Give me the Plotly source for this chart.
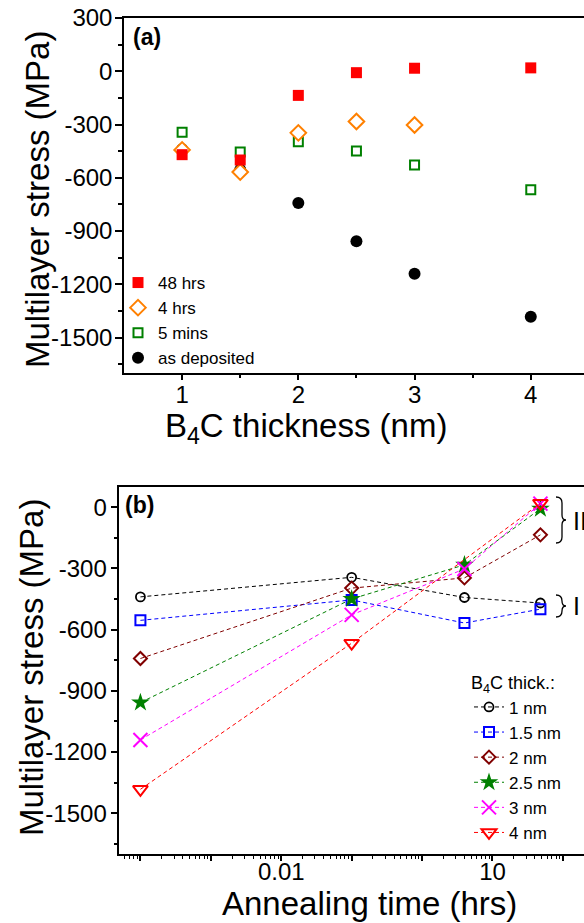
import plotly.graph_objects as go

W, H = 584, 923
def px(x): return x / W
def py(y): return 1 - y / H

FONT = "Liberation Sans"

# ---------------- data ----------------
thickness = [1, 1.5, 2, 2.5, 3, 4]
as_deposited = [-440, -555, -742, -958, -1141, -1383]
mins_5 = [-344, -455, -397, -450, -528, -667]
hrs_4 = [-443, -568, -347, -283, -303, None]
hrs_48 = [-470, -500, -136, -8, 17, 19]

anneal_time = [1e-4, 0.1, 4, 48]   # hrs (as deposited plotted at 1e-4)
thick_labels = ["1 nm", "1.5 nm", "2 nm", "2.5 nm", "3 nm", "4 nm"]

y_ticks = [300, 0, -300, -600, -900, -1200, -1500]
y_ticktext = ["300", "0", "-300", "-600", "-900", "-1200", "-1500"]
y_ticks_b = [0, -300, -600, -900, -1200, -1500]
y_ticktext_b = ["0", "-300", "-600", "-900", "-1200", "-1500"]
x_ticks_a = [1, 2, 3, 4]
x_minor_a = [1.5, 2.5, 3.5]
x_ticks_b = [1e-4, 1e-3, 1e-2, 1e-1, 1, 10, 100]
x_ticktext_b = ["", "", "0.01", "", "", "10", ""]
x_minor_b = [m * d for d in [1e-5, 1e-4, 1e-3, 1e-2, 1e-1, 1, 10, 100] for m in range(2, 10)]

fig = go.Figure()

# ---------------- panel (a) ----------------
top_series = [
    ("as deposited", as_deposited, dict(symbol="circle", size=12, color="black"), 4),
    ("5 mins", mins_5, dict(symbol="square", size=9, color="white", line=dict(width=2, color="#008000")), 3),
    ("4 hrs", hrs_4, dict(symbol="diamond", size=12, color="white", line=dict(width=2, color="#FF8000")), 2),
    ("48 hrs", hrs_48, dict(symbol="square", size=11, color="#FF0000"), 1),
]
for name, vals, mk, rank in top_series:
    fig.add_trace(go.Scatter(x=thickness, y=vals, mode="markers", name=name, marker=mk,
                             xaxis="x", yaxis="y", legend="legend", legendrank=rank))

# ---------------- panel (b) ----------------
b_styles = [
    ("black", dict(symbol="circle-open", size=9, line=dict(width=1.8))),
    ("#0000FF", dict(symbol="square-open", size=10, line=dict(width=2))),
    ("#800000", dict(symbol="diamond-open", size=10, line=dict(width=2))),
    ("#008000", dict(symbol="star", size=14, line=dict(width=0))),
    ("#FF00FF", dict(symbol="x-thin-open", size=14, line=dict(width=2))),
    ("#FF0000", dict(symbol="triangle-down-open", size=13, line=dict(width=2))),
]
for i, lab in enumerate(thick_labels):
    col, mk = b_styles[i]
    ys = [as_deposited[i], mins_5[i], hrs_4[i], hrs_48[i]]
    xs = [t for t, v in zip(anneal_time, ys) if v is not None]
    ys = [v for v in ys if v is not None]
    mk = dict(mk)
    mk["color"] = col
    mk["line"] = dict(mk["line"], color=col)
    fig.add_trace(go.Scatter(x=xs, y=ys, mode="lines+markers", name=lab,
                             line=dict(color=col, width=1, dash="4px,3px"),
                             marker=mk, xaxis="x2", yaxis="y2", legend="legend2"))

axis_common = dict(showline=True, linecolor="black", linewidth=1.5, showgrid=False, zeroline=False,
                   ticks="outside", tickcolor="black", tickwidth=1.5, automargin=False,
                   tickfont=dict(family=FONT, size=24, color="black"))

fig.update_layout(
    width=W, height=H, margin=dict(l=0, r=0, t=0, b=0, autoexpand=False),
    paper_bgcolor="white", plot_bgcolor="white",
    font=dict(family=FONT, color="black"),
    xaxis=dict(axis_common, domain=[px(124), 1], range=[0.5, 4.458], anchor="y",
               tickmode="array", tickvals=x_ticks_a, ticklen=5, mirror=True, ticklabelstandoff=-6,
               minor=dict(tickmode="array", tickvals=x_minor_a, ticks="outside", ticklen=3,
                          tickcolor="black", tickwidth=1.5)),
    yaxis=dict(axis_common, domain=[py(373), py(18)], range=[-1700, 300], anchor="x",
               tickmode="array", tickvals=y_ticks, ticktext=y_ticktext, ticklen=7, ticklabelstandoff=-2,
               minor=dict(tickmode="linear", tick0=150, dtick=300, ticks="outside", ticklen=4,
                          tickcolor="black", tickwidth=1.5)),
    xaxis2=dict(axis_common, type="log", domain=[px(119.3), 1], range=[-4.3, 2.3], anchor="y2",
                tickmode="array", tickvals=x_ticks_b, ticktext=x_ticktext_b, ticklen=5, mirror=True,
                ticklabelstandoff=-10,
                minor=dict(tickmode="array", tickvals=x_minor_b, ticks="outside", ticklen=3,
                           tickcolor="black", tickwidth=1.2)),
    yaxis2=dict(axis_common, domain=[py(854), py(486.7)], range=[-1700, 100], anchor="x2",
                tickmode="array", tickvals=y_ticks_b, ticktext=y_ticktext_b, ticklen=7, ticklabelstandoff=-1,
                minor=dict(tickmode="linear", tick0=150, dtick=300, ticks="outside", ticklen=4,
                           tickcolor="black", tickwidth=1.5)),
    legend=dict(x=px(118), y=py(265), xanchor="left", yanchor="top", bgcolor="rgba(0,0,0,0)",
                font=dict(family=FONT, size=17, color="black"), tracegroupgap=0),
    legend2=dict(x=px(469), y=py(666), xanchor="left", yanchor="top", bgcolor="rgba(0,0,0,0)",
                 font=dict(family=FONT, size=17, color="black"), tracegroupgap=0,
                 title=dict(text="B<sub>4</sub>C thick.:", font=dict(family=FONT, size=18, color="black"))),
    showlegend=True,
)

anns = [
    dict(text="<b>(a)</b>", x=px(131), y=py(37), xanchor="left", yanchor="middle", font=dict(size=23)),
    dict(text="<b>(b)</b>", x=px(123), y=py(505), xanchor="left", yanchor="middle", font=dict(size=23)),
    dict(text="B<sub>4</sub>C thickness (nm)", x=px(306), y=py(428), xanchor="center", yanchor="middle", font=dict(size=33)),
    dict(text="Annealing time (hrs)", x=px(369), y=py(903), xanchor="center", yanchor="middle", font=dict(size=33)),
    dict(text="Multilayer stress (MPa)", x=px(38), y=py(200), textangle=-90, xanchor="center", yanchor="middle", font=dict(size=33)),
    dict(text="Multilayer stress (MPa)", x=px(31), y=py(668), textangle=-90, xanchor="center", yanchor="middle", font=dict(size=33)),
    dict(text="II", x=px(571), y=py(521), xanchor="left", yanchor="middle", font=dict(size=25)),
    dict(text="I", x=px(571), y=py(606), xanchor="left", yanchor="middle", font=dict(size=25)),
]
for a in anns:
    a.update(xref="paper", yref="paper", showarrow=False)
    a["font"] = dict(a["font"], family=FONT, color="black")
fig.update_layout(annotations=anns)

def brace(x0, y0, y1, w=10):
    ym = (y0 + y1) / 2
    xm = x0 + w * 0.6
    pts = [
        f"M{px(x0)},{py(y0)}",
        f"Q{px(xm)},{py(y0)} {px(xm)},{py(y0 + 6)}",
        f"L{px(xm)},{py(ym - 5)}",
        f"Q{px(xm)},{py(ym)} {px(x0 + w)},{py(ym)}",
        f"Q{px(xm)},{py(ym)} {px(xm)},{py(ym + 5)}",
        f"L{px(xm)},{py(y1 - 6)}",
        f"Q{px(xm)},{py(y1)} {px(x0)},{py(y1)}",
    ]
    return dict(type="path", path=" ".join(pts), xref="paper", yref="paper",
                line=dict(color="black", width=1.3))

fig.update_layout(shapes=[brace(556, 497, 543), brace(556, 595, 617)])

pin = ("document.documentElement.style.margin='0';document.body.style.margin='0';"
       "document.body.style.overflow='hidden';document.documentElement.style.overflow='hidden';"
       "var d=document.getElementById('{plot_id}');d.style.position='fixed';"
       "d.style.left='0px';d.style.top='0px';")
fig.write_html("out.html", post_script=pin, config=dict(displayModeBar=False))
